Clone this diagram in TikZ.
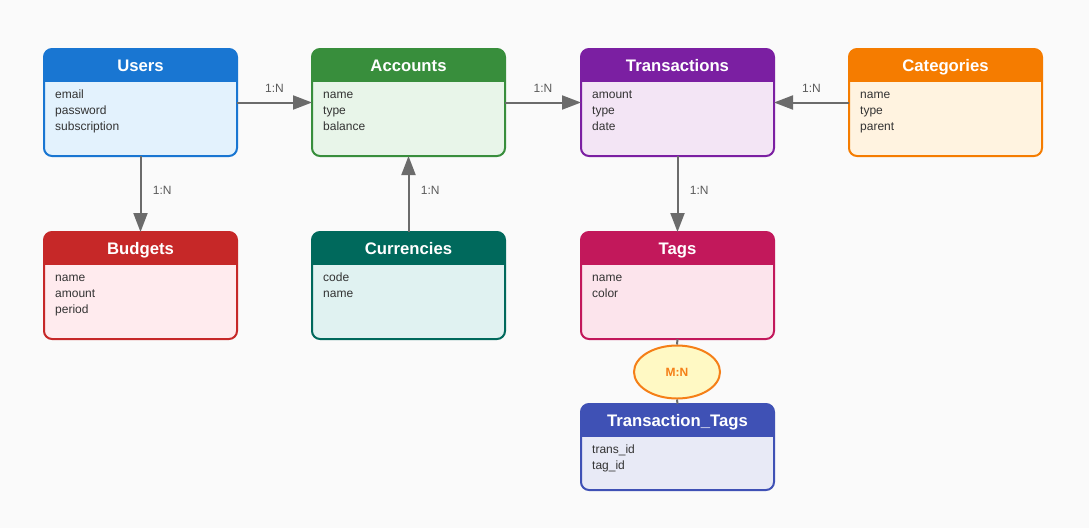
\documentclass[tikz,border=0pt]{standalone}
\usepackage{fontspec}
\setmainfont{Liberation Sans}
\usetikzlibrary{shapes.geometric,arrows.meta,calc}
\usepackage{xcolor}
\definecolor{bg}{HTML}{FAFAFA}
\definecolor{linegray}{HTML}{6B6B6B}
\definecolor{labelgray}{HTML}{5A5A5A}
\definecolor{attrtext}{HTML}{333333}
\definecolor{usershead}{HTML}{1976D2}
\definecolor{usersbody}{HTML}{E3F2FD}
\definecolor{acchead}{HTML}{388E3C}
\definecolor{accbody}{HTML}{E8F5E9}
\definecolor{transhead}{HTML}{7B1FA2}
\definecolor{transbody}{HTML}{F3E5F5}
\definecolor{cathead}{HTML}{F57C00}
\definecolor{catbody}{HTML}{FFF3E0}
\definecolor{budhead}{HTML}{C62828}
\definecolor{budbody}{HTML}{FFEBEE}
\definecolor{curhead}{HTML}{00695C}
\definecolor{curbody}{HTML}{E0F2F1}
\definecolor{taghead}{HTML}{C2185B}
\definecolor{tagbody}{HTML}{FCE4EC}
\definecolor{tthead}{HTML}{3F51B5}
\definecolor{ttbody}{HTML}{E8EAF6}
\definecolor{mnfill}{HTML}{FFF9C4}
\definecolor{mnline}{HTML}{F57F17}
\tikzset{
    box/.style={
        rectangle,
        minimum width=193pt,
        inner sep=0pt,
        outer sep=0pt
    },
    head/.style={font=\bfseries\fontsize{16.7}{20}\selectfont,text=white,anchor=base,inner sep=0pt},
    attr/.style={font=\fontsize{12}{14}\selectfont,text=attrtext,anchor=base west,inner sep=0pt},
    rel/.style={draw=linegray,line width=2pt,-{Triangle[length=19pt,width=14pt]}},
    card/.style={font=\fontsize{12}{14}\selectfont,text=labelgray}
}
\newcommand{\entity}[8] {
    \node[box,minimum height={#4},anchor=north west] (#1) at (#2, #3) {};
    \fill[#6,rounded corners=8pt] (#1.north west) rectangle (#1.south east);
    \begin{scope}
        \clip ($(#1.north west)+(-3,-3)$) rectangle ($(#1.north east)+(3,32)$);
        \fill[#5,rounded corners=8pt] (#1.north west) rectangle (#1.south east);
    \end{scope}
    \draw[#5,line width=2pt,rounded corners=8pt] (#1.north west) rectangle (#1.south east);
    \node[head] (#1-title) at ($(#1.north)+(0,22)$) {#7};
    \foreach \a [count=\i from 0] in {#8}
        \node[attr] (#1-attr\i) at ($(#1.north west)+(11,49+16*\i)$) {\a};
}

\begin{document}
\begin{tikzpicture}[x=1pt,y=-1pt]
    \fill[bg] (0,0) rectangle (1089,528);
    \useasboundingbox (0,0) rectangle (1089,528);
    \entity{users}{44}{49}{107}{usershead}{usersbody}{Users}{email,password,subscription}
    \entity{accounts}{312}{49}{107}{acchead}{accbody}{Accounts}{name,type,balance}
    \entity{transactions}{581}{49}{107}{transhead}{transbody}{Transactions}{amount,type,date}
    \entity{categories}{849}{49}{107}{cathead}{catbody}{Categories}{name,type,parent}
    \entity{budgets}{44}{232}{107}{budhead}{budbody}{Budgets}{name,amount,period}
    \entity{currencies}{312}{232}{107}{curhead}{curbody}{Currencies}{code,name}
    \entity{tags}{581}{232}{107}{taghead}{tagbody}{Tags}{name,color}
    \entity{transtags}{581}{404}{86}{tthead}{ttbody}{Transaction\_Tags}{trans\_id,tag\_id}
    % relations
    \draw[rel] (users.east) -- node[card,above=6pt] (l1) {1:N} (accounts.west);
    \draw[rel] (accounts.east) -- node[card,above=6pt] (l2) {1:N} (transactions.west);
    \draw[rel] (categories.west) -- node[card,above=6pt] (l3) {1:N} (transactions.east);
    \draw[rel] (users.south) -- node[card,right=8pt,yshift=4pt] (l4) {1:N} (budgets.north);
    \draw[rel] (currencies.north) -- node[card,right=8pt,yshift=4pt] (l5) {1:N} (accounts.south);
    \draw[rel] (transactions.south) -- node[card,right=8pt,yshift=4pt] (l6) {1:N} (tags.north);
    \node[ellipse,draw=mnline,line width=2pt,fill=mnfill,minimum width=86pt,minimum height=53pt,
        inner sep=0pt,text=mnline,font=\bfseries\fontsize{12}{14}\selectfont] (mn) at (677,372) {M:N};
    \draw[linegray,line width=2pt] (tags.south) -- (mn.north);
    \draw[linegray,line width=2pt] (mn.south) -- (transtags.north);
\end{tikzpicture}
\end{document}
